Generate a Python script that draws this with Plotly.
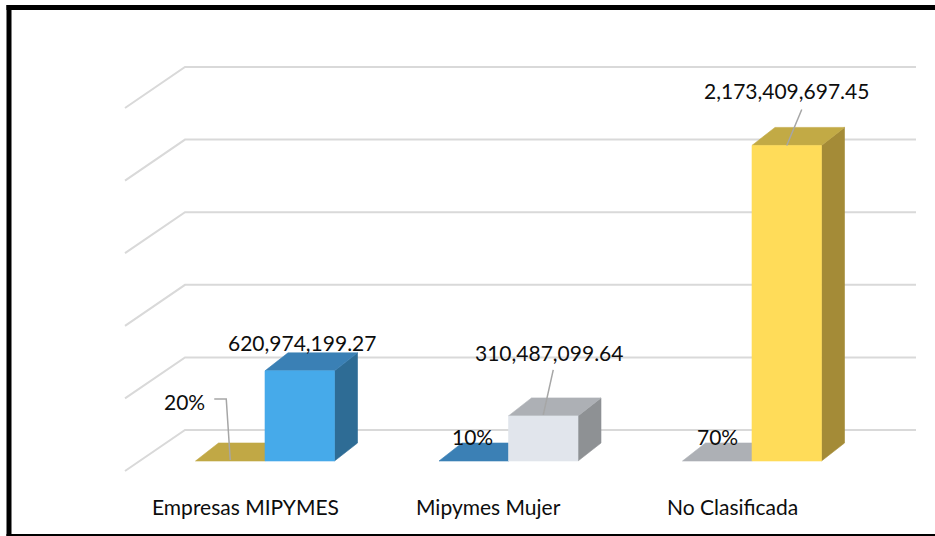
import plotly.graph_objects as go

# ---------------- data ----------------
categories = ["Empresas MIPYMES", "Mipymes Mujer", "No Clasificada"]
amounts = [620974199.27, 310487099.64, 2173409697.45]
amount_labels = ["620,974,199.27", "310,487,099.64", "2,173,409,697.45"]
shares = [0.20, 0.10, 0.70]
share_labels = ["20%", "10%", "70%"]
grid_values = [0, 500e6, 1000e6, 1500e6, 2000e6, 2500e6]

# ---------------- styles / geometry ----------------
PXX = 1 / 243.5          # x data units per pixel (one category = 243.5 px)
PY = 500e6 / 72.6        # value units per pixel
W = 69.5 * PXX           # bar width
BX, BY = 23 * PXX, 18 * PY   # bar depth projection

tall_front = ["#46AAEA", "#E1E5EC", "#FFDC59"]
tall_top = ["#3A80B5", "#ADB0B5", "#C2AA45"]
tall_side = ["#2E6C95", "#8E9194", "#A48B37"]
flat_top = ["#C1A845", "#3B80B5", "#ADB0B5"]

FONT = "Lato, 'Open Sans', sans-serif"
TXT = "#0d0d0d"
FS = 21

fig = go.Figure()


def poly(xs, ys, color):
    fig.add_trace(go.Scatter(
        x=xs + [xs[0]], y=ys + [ys[0]], mode="lines", fill="toself",
        fillcolor=color, line=dict(color=color, width=0.6),
        hoverinfo="skip", showlegend=False))


def line(xs, ys, color, width):
    fig.add_trace(go.Scatter(
        x=xs, y=ys, mode="lines", line=dict(color=color, width=width),
        hoverinfo="skip", showlegend=False))


# gridlines (side wall + back wall)
xl_front, xl_back, x_right = -140 * PXX, -80 * PXX, 651 * PXX
for v in grid_values:
    line([xl_front, xl_back, x_right],
         [v - 10 * PY, v + 31 * PY, v + 31 * PY], "#D9D9D9", 2)

# flat (share) series
for i, s in enumerate(shares):
    c = i
    x0, x1 = c - W, c
    poly([x0, x1, x1 + BX, x0 + BX], [s, s, s + BY, s + BY], flat_top[i])

# tall (amount) series
for i, v in enumerate(amounts):
    c = i
    x0, x1 = c, c + W
    poly([x1, x1 + BX, x1 + BX, x1], [0, BY, v + BY, v], tall_side[i])
    poly([x0, x1, x1 + BX, x0 + BX], [v, v, v + BY, v + BY], tall_top[i])
    poly([x0, x1, x1, x0], [0, 0, v, v], tall_front[i])

# leader lines
LEAD = "#A6A6A6"
# 20%
c = 0 - W / 2
line([c - 16 * PXX, c - 4 * PXX, c], [shares[0] + 62 * PY, shares[0] + 62 * PY, shares[0] + 1 * PY], LEAD, 1.5)
# Mipymes Mujer amount
c = 1 + W / 2
line([c + 10 * PXX, c], [amounts[1] + 46 * PY, amounts[1] + 1 * PY], LEAD, 1.5)
# No Clasificada amount
c = 2 + W / 2
line([c + 15 * PXX, c], [amounts[2] + 36 * PY, amounts[2]], LEAD, 1.5)

annotations = []
# amount labels
amt_off = [(2, 28), (6, 63), (0, 55)]
for i, v in enumerate(amounts):
    dx, dy = amt_off[i]
    annotations.append(dict(x=i + W / 2 + dx * PXX, y=v + dy * PY, text=amount_labels[i],
                            showarrow=False, font=dict(family=FONT, size=FS, color=TXT),
                            xanchor="center", yanchor="middle"))
# share labels
sh_off = [(-46, 60), (-1, 25), (0, 25)]
for i, s in enumerate(shares):
    dx, dy = sh_off[i]
    annotations.append(dict(x=i - W / 2 + dx * PXX, y=s + dy * PY, text=share_labels[i],
                            showarrow=False, font=dict(family=FONT, size=FS, color=TXT),
                            xanchor="center", yanchor="middle"))
# category labels
for i, name in enumerate(categories):
    annotations.append(dict(x=i - 20 * PXX, y=-45 * PY, text=name, showarrow=False,
                            font=dict(family=FONT, size=FS, color=TXT),
                            xanchor="center", yanchor="middle"))

border = dict(color="black", width=5)
fig.update_layout(
    width=935, height=536,
    margin=dict(l=0, r=0, t=0, b=0),
    paper_bgcolor="white", plot_bgcolor="white",
    xaxis=dict(range=[-265 * PXX, 670 * PXX], visible=False, fixedrange=True),
    yaxis=dict(range=[-75 * PY, 461 * PY], visible=False, fixedrange=True),
    annotations=annotations,
    shapes=[
        dict(type="line", xref="paper", yref="paper", x0=9 / 935, x1=9 / 935,
             y0=-0.01, y1=1 - 5 / 536, line=border),
        dict(type="line", xref="paper", yref="paper", x0=6.5 / 935, x1=1.01,
             y0=1 - 7.5 / 536, y1=1 - 7.5 / 536, line=border),
        dict(type="line", xref="paper", yref="paper", x0=6.5 / 935, x1=1.01,
             y0=-0.5 / 536, y1=-0.5 / 536, line=border),
    ],
    showlegend=False,
)

fig.write_html("out.html", config={"displayModeBar": False},
               post_script="document.body.style.margin='0';document.body.style.overflow='hidden';")
